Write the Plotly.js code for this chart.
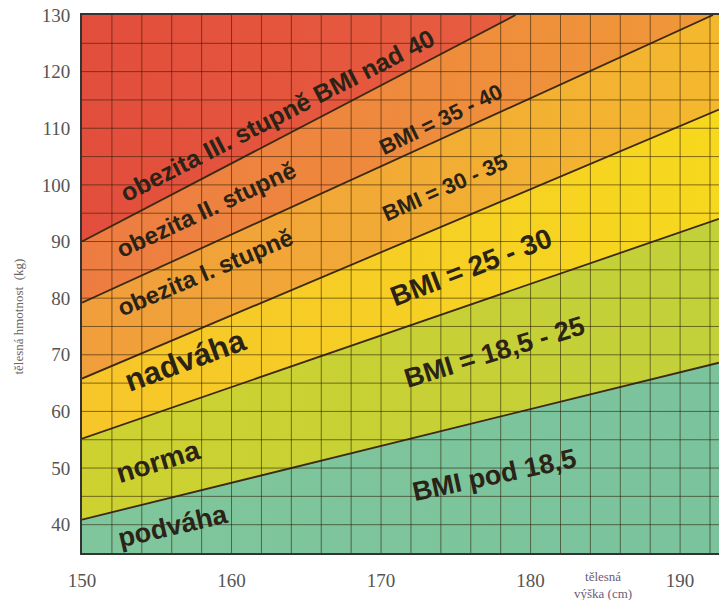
<!DOCTYPE html>
<html>
<head>
<meta charset="utf-8">
<script src="https://cdn.plot.ly/plotly-3.0.1.min.js"></script>
<style>html,body{margin:0;padding:0;background:#fff;}#chart{width:719px;height:600px;}</style>
</head>
<body>
<div id="chart"></div>
<script>
// ---- data ----
const heightCm = [150, 192.6];            // tělesná výška (cm) where lines are read
const weightBmi185 = [40.9, 68.6];        // BMI 18,5 boundary (kg)
const weightBmi25 = [55.2, 94.0];         // BMI 25 boundary
const weightBmi30 = [65.8, 113.3];        // BMI 30 boundary
const heightBmi35 = [150, 192.2];
const weightBmi35 = [79.2, 130];          // BMI 35 boundary (leaves chart at top)
const heightBmi40 = [150, 179.0];
const weightBmi40 = [90.0, 130];          // BMI 40 boundary (leaves chart at top)
const xTicks = [150, 160, 170, 180, 190];
const yTicks = [40, 50, 60, 70, 80, 90, 100, 110, 120, 130];

// ---- axis ranges ----
const xMin = 150, xMax = 192.6, yMin = 35, yMax = 130;

const lineStyle = {color: '#3d2a12', width: 1.8};
const noLine = {width: 0};

function band(x, y, fill, line, grad) {
  const t = {x: x, y: y, type: 'scatter', mode: 'lines', line: line,
    fill: fill ? 'tonexty' : 'none', fillcolor: fill, hoverinfo: 'skip', showlegend: false};
  if (grad) t.fillgradient = grad;
  return t;
}
function hgrad(c1, c2) {
  return {type: 'horizontal', start: xMin, stop: xMax, colorscale: [[0, c1], [1, c2]]};
}

const traces = [
  band([xMin, xMax], [yMin, yMin], null, noLine),
  band(heightCm, weightBmi185, '#7bc49b', lineStyle, hgrad('#80c69c', '#7ac39c')),
  band(heightCm, weightBmi25, '#c5d033', lineStyle, hgrad('#cdd230', '#c2d03a')),
  band(heightCm, weightBmi30, '#f7d024', lineStyle, hgrad('#f7c62a', '#f6d81e')),
  band(heightBmi35, weightBmi35, '#f2a93a', lineStyle, hgrad('#f09e3c', '#f4b82e')),
  band(heightBmi40, weightBmi40, '#ee8540', lineStyle, hgrad('#ed7c42', '#f09838')),
  band([xMin, xMax], [yMax, yMax], '#e4533e', noLine, hgrad('#e24e3c', '#e96542'))
];

// grid lines drawn above the coloured bands
const gridColor = 'rgba(45,30,5,0.58)';
const shapes = [];
for (let gx = xMin + 2; gx < xMax; gx += 2) {
  shapes.push({type: 'line', xref: 'x', yref: 'y', x0: gx, x1: gx, y0: yMin, y1: yMax,
    line: {color: gridColor, width: 1}, layer: 'above'});
}
for (let gy = yMin + 5; gy < yMax; gy += 5) {
  shapes.push({type: 'line', xref: 'x', yref: 'y', x0: xMin, x1: xMax, y0: gy, y1: gy,
    line: {color: gridColor, width: 1}, layer: 'above'});
}

const labelFont = 'Liberation Sans, Arial, sans-serif';
const labelColor = '#2a2316';
const labels = [
  {text: 'obezita III. stupně BMI nad 40', x: 163.1, y: 112.3, a: -27, s: 25},
  {text: 'obezita II. stupně', x: 158.3, y: 95.6, a: -25, s: 24},
  {text: 'obezita I. stupně', x: 158.2, y: 84.6, a: -23, s: 24},
  {text: 'nadváha', x: 156.9, y: 69.0, a: -20, s: 31},
  {text: 'norma', x: 155.1, y: 51.2, a: -17, s: 28},
  {text: 'podváha', x: 156.1, y: 39.8, a: -13, s: 27},
  {text: 'BMI = 35 - 40', x: 174.0, y: 111.5, a: -26, s: 22},
  {text: 'BMI = 30 - 35', x: 174.3, y: 99.5, a: -24, s: 22},
  {text: 'BMI = 25 - 30', x: 176.0, y: 85.4, a: -21, s: 28},
  {text: 'BMI = 18,5 - 25', x: 177.6, y: 70.5, a: -17, s: 27},
  {text: 'BMI pod 18,5', x: 177.6, y: 48.8, a: -12, s: 27}
];
const annotations = labels.map(l => ({
  text: '<b>' + l.text + '</b>', x: l.x, y: l.y, xref: 'x', yref: 'y',
  textangle: l.a, showarrow: false, xanchor: 'center', yanchor: 'middle',
  font: {family: labelFont, size: l.s, color: labelColor}
}));
annotations.push({
  text: 'tělesná hmotnost  (kg)', xref: 'paper', yref: 'paper', x: -0.1, y: 0.44,
  textangle: -90, showarrow: false, xanchor: 'center', yanchor: 'middle',
  font: {family: 'Liberation Serif, serif', size: 13, color: '#666'}
});
annotations.push({
  text: 'tělesná<br>výška (cm)', xref: 'paper', yref: 'paper', x: 0.818, y: -0.06,
  showarrow: false, xanchor: 'center', yanchor: 'middle', align: 'center',
  font: {family: 'Liberation Serif, serif', size: 13, color: '#6b5c78'}
});

const layout = {
  width: 719, height: 600,
  margin: {l: 82, r: 0, t: 15, b: 47, pad: 0},
  paper_bgcolor: '#ffffff', plot_bgcolor: '#f4b82e',
  showlegend: false,
  xaxis: {range: [xMin, xMax], tickvals: xTicks, ticktext: xTicks.map(String), showgrid: false,
    zeroline: false, showline: true, linecolor: '#333', linewidth: 2, mirror: true,
    ticks: '', ticklabelstandoff: 9, layer: 'above traces', fixedrange: true,
    tickfont: {family: 'Liberation Serif, serif', size: 19, color: '#555'}},
  yaxis: {range: [yMin, yMax], tickvals: yTicks, ticktext: yTicks.map(String), showgrid: false,
    zeroline: false, showline: true, linecolor: '#333', linewidth: 2, mirror: false,
    ticks: '', ticklabelstandoff: 6, layer: 'above traces', fixedrange: true,
    tickfont: {family: 'Liberation Serif, serif', size: 19, color: '#555'}},
  shapes: shapes,
  annotations: annotations
};

Plotly.newPlot('chart', traces, layout, {displayModeBar: false, staticPlot: true});
</script>
</body>
</html>
